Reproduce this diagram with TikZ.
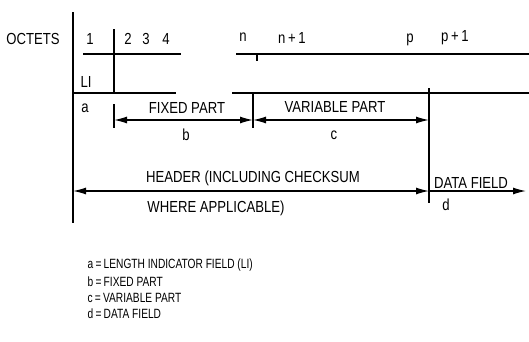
\documentclass[tikz,border=0pt]{standalone}
\usepackage{fontspec}
\setmainfont{Liberation Sans}[FakeStretch=0.82]
\newfontfamily\legfont{Liberation Sans}[FakeStretch=0.76]
\usetikzlibrary{arrows.meta}
\begin{document}
\begin{tikzpicture}[x=1pt,y=-1pt,line width=1.3pt,
  lbl/.style={font=\fontsize{16}{17}\selectfont,inner sep=0pt},
  leg/.style={font=\legfont\fontsize{13.4}{15}\selectfont,inner sep=0pt,anchor=west},
  dim/.style={{Latex[length=13pt,width=7pt]}-{Latex[length=13pt,width=7pt]}},
  fwd/.style={-{Latex[length=13pt,width=7pt]}}]
\useasboundingbox (0,0) rectangle (529,341);
% structural lines
\coordinate (mainT) at (73,12);   \coordinate (mainB) at (73,223);
\coordinate (v2T) at (114,29);    \coordinate (v2B) at (114,93);
\coordinate (t1L) at (83,54);     \coordinate (t1R) at (181,54);
\coordinate (t2L) at (236,54);    \coordinate (t2R) at (529,54);
\coordinate (tkT) at (257,54);    \coordinate (tkB) at (257,61);
\coordinate (m1L) at (73,93);     \coordinate (m1R) at (176,93);
\coordinate (m2L) at (232,93);    \coordinate (m2R) at (529,93);
\coordinate (bT) at (114,104);    \coordinate (bB) at (114,128);
\coordinate (cT) at (253,93);     \coordinate (cB) at (253,128);
\coordinate (dT) at (429,88);     \coordinate (dB) at (429,203);
\coordinate (fA) at (114,120);    \coordinate (fB) at (253,120);
\coordinate (vB) at (429,120);
\coordinate (hA) at (73,191);     \coordinate (hB) at (429,191);
\coordinate (dE) at (526,191);
\draw (mainT) -- (mainB);
\draw (v2T) -- (v2B);
\draw (t1L) -- (t1R);
\draw (t2L) -- (t2R);
\draw (tkT) -- (tkB);
\draw (m1L) -- (m1R);
\draw (m2L) -- (m2R);
\draw (bT) -- (bB);
\draw (cT) -- (cB);
\draw (dT) -- (dB);
\draw[dim] (fA) -- (fB);
\draw[dim] (fB) -- (vB);
\draw[dim] (hA) -- (hB);
\draw[fwd] (hB) -- (dE);
% labels
\node[lbl] (oct) at (33,39) {OCTETS};
\node[lbl] (o1) at (90,39) {1};
\node[lbl] (o2) at (128,39) {2};
\node[lbl] (o3) at (146,39) {3};
\node[lbl] (o4) at (166,39) {4};
\node[lbl] (on) at (243,37) {n};
\node[lbl] (on1) at (292,38) {n\,+\,1};
\node[lbl] (op) at (410,40) {p};
\node[lbl] (op1) at (455,38) {p\,+\,1};
\node[lbl] (li) at (86,82) {LI};
\node[lbl] (la) at (85,108) {a};
\node[lbl] (fixed) at (187,108) {FIXED PART};
\node[lbl] (lb) at (186,135) {b};
\node[lbl] (var) at (335,107) {VARIABLE PART};
\node[lbl] (lc) at (334,135) {c};
\node[lbl] (hdr) at (253,178) {HEADER (INCLUDING CHECKSUM};
\node[lbl] (where) at (216,208) {WHERE APPLICABLE)};
\node[lbl] (data) at (471,183) {DATA FIELD};
\node[lbl] (ld) at (446,205) {d};
% legend
\node[leg] (ka) at (87,265) {a\,=\,LENGTH INDICATOR FIELD (LI)};
\node[leg] (kb) at (87,282) {b\,=\,FIXED PART};
\node[leg] (kc) at (87,298) {c\,=\,VARIABLE PART};
\node[leg] (kd) at (87,314) {d\,=\,DATA FIELD};
\end{tikzpicture}
\end{document}
